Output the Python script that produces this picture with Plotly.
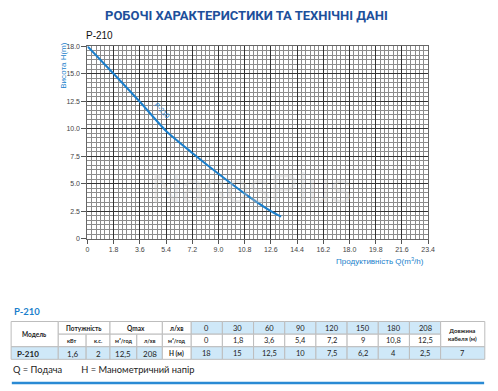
import plotly.graph_objects as go

# ---------------- data ----------------
title_text = "РОБОЧІ ХАРАКТЕРИСТИКИ ТА ТЕХНІЧНІ ДАНІ"
model = "P-210"

x_ticks = [0, 1.8, 3.6, 5.4, 7.2, 9.0, 10.8, 12.6, 14.4, 16.2, 18.0, 19.8, 21.6, 23.4]
x_tick_labels = ["0", "1.8", "3.6", "5.4", "7.2", "9.0", "10.8", "12.6", "14.4",
                 "16.2", "18.0", "19.8", "21.6", "23.4"]
y_ticks = [0, 2.5, 5.0, 7.5, 10.0, 12.5, 15.0, 17.5]
y_tick_labels = ["0", "2.5", "5.0", "7.5", "10.0", "12.5", "15.0", "18.0"]

# curve (axis units)
curve_q = [0, 1.8, 3.6, 5.4, 7.2, 9.0, 10.8, 12.6, 13.3]
curve_h = [17.5, 15.0, 12.45, 9.8, 7.8, 5.9, 4.1, 2.5, 2.0]

# table
flow_lpm = [0, 30, 60, 90, 120, 150, 180, 208]
flow_m3h = [0, 1.8, 3.6, 5.4, 7.2, 9, 10.8, 12.5]
head_m = [18, 15, 12.5, 10, 7.5, 6.2, 4, 2.5]
power_kw = 1.6
power_hp = 2
qmax_m3h = 12.5
qmax_lpm = 208
cable_m = 7

# ---------------- styles ----------------
W, H = 498, 391
BLUE = "#1b7fcc"
DARK_BLUE = "#1d4f9b"
CELL_BLUE = "#cfe8f8"
BORDER = "#bdbdbd"


def fmt(v):
    return f"{v:g}".replace(".", ",")


fig = go.Figure()

fig.add_trace(go.Scatter(
    x=curve_q, y=curve_h, mode="lines",
    line=dict(color=BLUE, width=2, shape="spline", smoothing=0.6),
    hoverinfo="skip", showlegend=False))

# plot area in pixels
px0, px1, py_top, py_bot = 87, 434, 43, 239

fig.update_layout(
    width=W, height=H, autosize=False,
    margin=dict(l=0, r=0, t=0, b=0),
    paper_bgcolor="white", plot_bgcolor="white",
    showlegend=False,
    font=dict(family="Liberation Sans, Arial, sans-serif", color="#333"),
    xaxis=dict(
        domain=[px0 / W, px1 / W], range=[0, 23.4],
        tickmode="array", tickvals=x_ticks, ticktext=x_tick_labels,
        tickfont=dict(size=7, color="#444"),
        ticks="outside", ticklen=4, tickcolor="#555",
        showgrid=True, gridcolor="#333333", gridwidth=1,
        minor=dict(dtick=0.3, tick0=0, showgrid=True, gridcolor="#8c8c8c", gridwidth=1),
        showline=True, linecolor="#666", mirror=True, zeroline=False,
        fixedrange=True),
    yaxis=dict(
        domain=[1 - py_bot / H, 1 - py_top / H], range=[0, 17.5],
        tickmode="array", tickvals=y_ticks, ticktext=y_tick_labels,
        tickfont=dict(size=7, color="#444"),
        ticks="outside", ticklen=5, tickcolor="#555",
        showgrid=True, gridcolor="#333333", gridwidth=1,
        minor=dict(dtick=2.5 / 6, tick0=0, showgrid=True, gridcolor="#8c8c8c", gridwidth=1),
        showline=True, linecolor="#666", mirror=True, zeroline=False,
        fixedrange=True),
    # table / overlay coordinate system in pixel units for the lower block
    xaxis2=dict(domain=[0, 1], range=[0, W], visible=False, anchor="y2", fixedrange=True),
    yaxis2=dict(domain=[0, 100 / H], range=[H, H - 100], visible=False, anchor="x2", fixedrange=True),
)

annotations = []
shapes = []

# title
annotations.append(dict(xref="paper", yref="paper", x=0.5, y=1 - 12 / H, text=f"<b>{title_text}</b>",
                        showarrow=False, xanchor="center", yanchor="middle",
                        font=dict(family="Liberation Sans Narrow, Roboto, sans-serif", size=13, color=DARK_BLUE)))
# chart model label
annotations.append(dict(xref="paper", yref="paper", x=83 / W, y=1 - 32 / H, text=model,
                        showarrow=False, xanchor="left", yanchor="middle",
                        font=dict(family="Liberation Sans, Arial", size=10, color="#111")))
# y axis title
annotations.append(dict(xref="paper", yref="paper", x=63 / W, y=1 - 62 / H, text="Висота H(m)",
                        textangle=-90, showarrow=False, xanchor="center", yanchor="middle",
                        font=dict(family="Liberation Sans, Arial", size=8, color=BLUE)))
# x axis title
annotations.append(dict(xref="paper", yref="paper", x=432 / W, y=1 - 262 / H,
                        text="Продуктивність Q(m<sup>3</sup>/h)",
                        showarrow=False, xanchor="right", yanchor="middle",
                        font=dict(family="Liberation Sans, Arial", size=8, color=BLUE)))
# curve label
annotations.append(dict(xref="x", yref="y", x=5.15, y=11.7, text=model, textangle=47,
                        showarrow=False, xanchor="center", yanchor="middle",
                        font=dict(family="Liberation Sans, Arial", size=7, color=BLUE)))
# watermark
annotations.append(dict(xref="x", yref="y", x=11.3, y=4.6, text="NasosPlus",
                        showarrow=False, xanchor="center", yanchor="middle",
                        font=dict(family="Liberation Sans, Arial", size=42, color="rgba(200,200,200,0.35)")))

# ---------------- table ----------------
col_edges = [9.3, 57.3, 85.7, 110, 137.3, 163.3, 192.7]
val_w = (446.7 - 192.7) / len(flow_lpm)
col_edges += [192.7 + val_w * (i + 1) for i in range(len(flow_lpm))]
col_edges += [491.7]
row_edges = [323.3, 336.2, 349.0, 361.8]

TFONT = "Lato, Open Sans, sans-serif"


def cell(c0, c1, r0, r1, text, fill="white", bold=False, size=7.5, align="center"):
    x0, x1 = col_edges[c0], col_edges[c1]
    y0, y1 = row_edges[r0], row_edges[r1]
    shapes.append(dict(type="rect", xref="x2", yref="y2", x0=x0, x1=x1, y0=y0, y1=y1,
                       fillcolor=fill, line=dict(color=BORDER, width=1), layer="below"))
    t = f"<b>{text}</b>" if bold else text
    if align == "left":
        ax, xa = x0 + 4, "left"
    else:
        ax, xa = (x0 + x1) / 2, "center"
    annotations.append(dict(xref="x2", yref="y2", x=ax, y=(y0 + y1) / 2 + 0.5, text=t,
                            showarrow=False, xanchor=xa, yanchor="middle",
                            font=dict(family=TFONT, size=size, color="#222")))


nv = len(flow_lpm)
cell(0, 1, 0, 2, "Модель", bold=True, size=6.5)
cell(1, 3, 0, 1, "Потужність", bold=True, size=6.5)
cell(3, 5, 0, 1, "Qmax", bold=True, size=6.5)
cell(5, 6, 0, 1, "л/хв", bold=True, size=6.5)
for i, v in enumerate(flow_lpm):
    cell(6 + i, 7 + i, 0, 1, fmt(v), fill=CELL_BLUE, size=7.5)
cell(6 + nv, 7 + nv, 0, 2, "Довжина<br>кабеля (м)", bold=True, size=6)

cell(1, 2, 1, 2, "кВт", bold=True, size=5.5)
cell(2, 3, 1, 2, "к.с.", bold=True, size=5.5)
cell(3, 4, 1, 2, "м³/год", bold=True, size=5.5)
cell(4, 5, 1, 2, "л/хв", bold=True, size=5.5)
cell(5, 6, 1, 2, "м³/год", bold=True, size=5.5)
for i, v in enumerate(flow_m3h):
    cell(6 + i, 7 + i, 1, 2, fmt(v), size=7.5)

cell(0, 1, 2, 3, model, fill=CELL_BLUE, bold=True, size=8, align="left")
cell(1, 2, 2, 3, fmt(power_kw), fill=CELL_BLUE, size=8)
cell(2, 3, 2, 3, fmt(power_hp), fill=CELL_BLUE, size=8)
cell(3, 4, 2, 3, fmt(qmax_m3h), fill=CELL_BLUE, size=8)
cell(4, 5, 2, 3, fmt(qmax_lpm), fill=CELL_BLUE, size=8)
cell(5, 6, 2, 3, "H (м)", bold=True, size=6.5)
for i, v in enumerate(head_m):
    cell(6 + i, 7 + i, 2, 3, fmt(v), fill=CELL_BLUE, size=7.5)
cell(6 + nv, 7 + nv, 2, 3, fmt(cable_m), fill=CELL_BLUE, size=7.5)

# table heading
annotations.append(dict(xref="x2", yref="y2", x=10, y=313, text=f"<b>{model}</b>",
                        showarrow=False, xanchor="left", yanchor="middle",
                        font=dict(family=TFONT, size=9.5, color=BLUE)))
# legend line
annotations.append(dict(xref="x2", yref="y2", x=9.5, y=372,
                        text="Q = Подача&nbsp;&nbsp;&nbsp;&nbsp;&nbsp;&nbsp;&nbsp;&nbsp;H = Манометричний напір",
                        showarrow=False, xanchor="left", yanchor="middle",
                        font=dict(family=TFONT, size=9.3, color="#222")))
# bottom rule
shapes.append(dict(type="line", xref="x2", yref="y2", x0=10, x1=491, y0=386, y1=386,
                   line=dict(color="#2a8ad4", width=2.5)))

fig.update_layout(annotations=annotations, shapes=shapes)
fig.write_html("out.html", config={"displayModeBar": False},
               post_script="document.body.style.margin='0px';document.body.style.overflow='hidden';")
